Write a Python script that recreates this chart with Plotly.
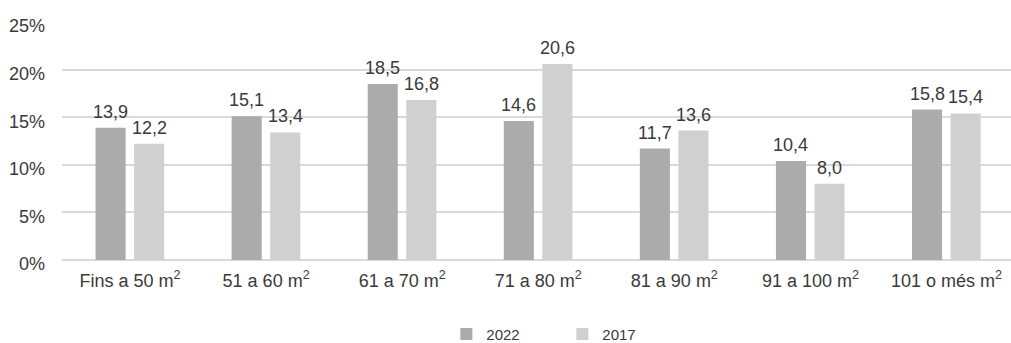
import plotly.graph_objects as go

# Household surface bands and share of dwellings (%) per survey year
categories = ["Fins a 50 m<sup>2</sup>", "51 a 60 m<sup>2</sup>", "61 a 70 m<sup>2</sup>",
              "71 a 80 m<sup>2</sup>", "81 a 90 m<sup>2</sup>", "91 a 100 m<sup>2</sup>",
              "101 o més m<sup>2</sup>"]
values_2022 = [13.9, 15.1, 18.5, 14.6, 11.7, 10.4, 15.8]
values_2017 = [12.2, 13.4, 16.8, 20.6, 13.6, 8.0, 15.4]
y_ticks = [0, 5, 10, 15, 20, 25]
y_tick_labels = ["0%", "5%", "10%", "15%", "20%", "25%"]

series = [
    ("2022", values_2022, "#ababab", -0.2535),
    ("2017", values_2017, "#d0d0d0", 0.03),
]
bar_width = 0.221
text_color = "#3a3a3a"
font_family = "Liberation Sans, Arial, sans-serif"

fig = go.Figure()
positions = list(range(len(categories)))
for name, vals, color, off in series:
    fig.add_trace(go.Bar(
        x=positions, y=vals, name=name,
        marker=dict(color=color, line=dict(width=0)),
        width=bar_width, offset=off,
    ))
    for i, v in enumerate(vals):
        fig.add_annotation(
            x=i + off + bar_width / 2, y=v, xref="x", yref="y",
            text=f"{v:.1f}".replace(".", ","), showarrow=False,
            yanchor="bottom", yshift=4,
            font=dict(size=18, color=text_color, family=font_family),
        )

fig.update_layout(
    width=1011, height=343,
    margin=dict(l=62, r=0, t=22, b=83, autoexpand=False),
    paper_bgcolor="white", plot_bgcolor="white",
    barmode="overlay",
    font=dict(family=font_family, size=18, color=text_color),
    showlegend=True,
    legend=dict(
        orientation="h", x=0.405, xanchor="left", y=-0.243, yanchor="top",
        font=dict(size=15, color=text_color), entrywidth=71, entrywidthmode="pixels",
        traceorder="normal",
    ),
    xaxis=dict(
        range=[-0.5, 6.474], tickmode="array", tickvals=positions, ticktext=categories,
        showgrid=False, showline=False, zeroline=False, ticks="",
        ticklabelstandoff=8, automargin=False,
    ),
    yaxis=dict(
        range=[0, 25], tickmode="array", tickvals=y_ticks, ticktext=y_tick_labels,
        showgrid=True, gridcolor="#d9d9d9", gridwidth=1.5,
        zeroline=True, zerolinecolor="#d9d9d9", zerolinewidth=1.5,
        showline=False, ticks="", ticklabelstandoff=16, ticklabelshift=4,
        automargin=False,
    ),
)

fig.write_html("out.html")
